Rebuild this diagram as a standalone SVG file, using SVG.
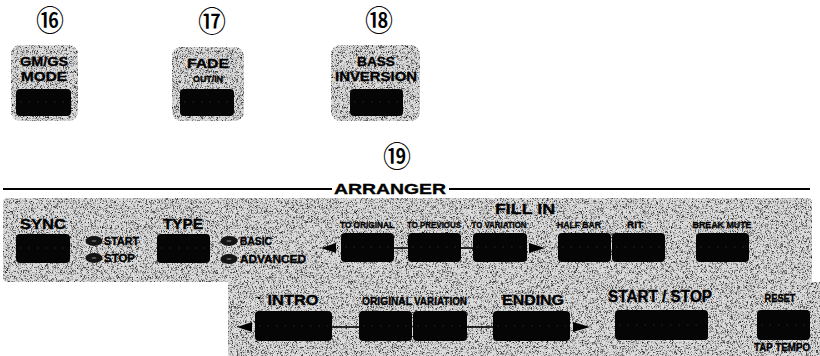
<svg xmlns="http://www.w3.org/2000/svg" width="820" height="356" viewBox="0 0 820 356">
<defs>
  <filter id="grain" x="0" y="0" width="1" height="1" color-interpolation-filters="sRGB">
    <feTurbulence type="fractalNoise" baseFrequency="1.8" numOctaves="1" seed="11" result="noise"/>
    <feColorMatrix in="noise" type="matrix" values="0 0 0 0 0  0 0 0 0 0  0 0 0 0 0  3.0 0 0 0 -1.45" result="dots"/>
    <feComposite in="dots" in2="SourceAlpha" operator="in" result="clipped"/>
    <feMerge><feMergeNode in="SourceGraphic"/><feMergeNode in="clipped"/></feMerge>
  </filter>
  <style>
    .panel{fill:#dcdcdc;filter:url(#grain)}
    .btn{fill:#050505}
    .hl{stroke:#3a3a3a;stroke-width:0.7;stroke-dasharray:1.5 7;fill:none}
    .led{fill:#141414}
    .ledmark{fill:#5a5a5a}
    .t{font-family:"Liberation Sans",Arial,sans-serif;font-weight:bold;fill:#000;stroke:#000;stroke-width:0.35}
    .c{text-anchor:middle}
    .num{font-family:"Noto Sans CJK JP","DejaVu Sans",sans-serif;font-size:28px;font-weight:500;text-anchor:middle;fill:#000}
    .wire{stroke:#000;stroke-width:1.6;fill:none}
    .rule{stroke:#000;stroke-width:2.2;fill:none}
  </style>
</defs>
<rect width="820" height="356" fill="#fff"/>

<!-- top buttons -->
<g id="gmgs-mode">
  <text class="num" x="50" y="31">⑯</text>
  <rect class="panel" x="11" y="45" width="67" height="76" rx="9"/>
  <text class="t c" x="44" y="66" font-size="13" textLength="48" lengthAdjust="spacingAndGlyphs">GM/GS</text>
  <text class="t c" x="44" y="81" font-size="13" textLength="46" lengthAdjust="spacingAndGlyphs">MODE</text>
  <rect class="btn" x="16" y="89" width="55" height="27" rx="4"/>
  <line class="hl" x1="20" y1="102" x2="67" y2="102"/>
</g>
<g id="fade-out-in">
  <text class="num" x="212" y="32">⑰</text>
  <rect class="panel" x="172" y="47" width="72" height="74" rx="9"/>
  <text class="t c" x="208" y="68" font-size="13" textLength="42" lengthAdjust="spacingAndGlyphs">FADE</text>
  <text class="t c" x="208" y="82" font-size="9" textLength="30" lengthAdjust="spacingAndGlyphs">OUT/IN</text>
  <rect class="btn" x="180" y="89" width="54" height="27" rx="4"/>
  <line class="hl" x1="184" y1="102" x2="230" y2="102"/>
</g>
<g id="bass-inversion">
  <text class="num" x="379" y="31">⑱</text>
  <rect class="panel" x="331" y="45" width="89" height="76" rx="9"/>
  <text class="t c" x="376" y="66" font-size="13" textLength="38" lengthAdjust="spacingAndGlyphs">BASS</text>
  <text class="t c" x="376" y="81" font-size="13" textLength="82" lengthAdjust="spacingAndGlyphs">INVERSION</text>
  <rect class="btn" x="350" y="89" width="53" height="27" rx="4"/>
  <line class="hl" x1="354" y1="102" x2="399" y2="102"/>
</g>

<!-- arranger section -->
<g id="arranger-title">
  <text class="num" x="397" y="167">⑲</text>
  <line class="rule" x1="3" y1="189" x2="332" y2="189"/>
  <line class="rule" x1="449" y1="189" x2="810" y2="189"/>
  <text class="t c" x="390" y="194" font-size="15.5" textLength="112" lengthAdjust="spacingAndGlyphs">ARRANGER</text>
</g>
<path id="arranger-panel" class="panel" d="M8,198 H807 Q812,198 812,203 V282 H820 V356 H228 V282 H8 Q3,282 3,277 V203 Q3,198 8,198 Z"/>

<g id="sync">
  <text class="t c" x="43" y="229" font-size="15" textLength="46" lengthAdjust="spacingAndGlyphs">SYNC</text>
  <rect class="btn" x="16" y="234" width="54" height="29" rx="4"/>
  <line class="hl" x1="20" y1="248" x2="66" y2="248"/>
</g>
<g id="sync-start-led">
  <ellipse class="led" cx="94" cy="241" rx="8.5" ry="5"/>
  <ellipse class="ledmark" cx="94" cy="241" rx="2.5" ry="1"/>
  <text class="t" x="104" y="245" font-size="11" textLength="35" lengthAdjust="spacingAndGlyphs">START</text>
</g>
<g id="sync-stop-led">
  <ellipse class="led" cx="94" cy="258" rx="8.5" ry="5"/>
  <ellipse class="ledmark" cx="94" cy="258" rx="2.5" ry="1"/>
  <text class="t" x="104" y="262" font-size="11" textLength="31" lengthAdjust="spacingAndGlyphs">STOP</text>
</g>
<g id="type">
  <text class="t c" x="183" y="229" font-size="15" textLength="40" lengthAdjust="spacingAndGlyphs">TYPE</text>
  <rect class="btn" x="157" y="234" width="53" height="29" rx="4"/>
  <line class="hl" x1="161" y1="248" x2="206" y2="248"/>
</g>
<g id="type-basic-led">
  <ellipse class="led" cx="229" cy="241" rx="8.5" ry="5"/>
  <ellipse class="ledmark" cx="229" cy="241" rx="2.5" ry="1"/>
  <text class="t" x="240" y="245" font-size="11" textLength="32" lengthAdjust="spacingAndGlyphs">BASIC</text>
</g>
<g id="type-advanced-led">
  <ellipse class="led" cx="229" cy="259" rx="8.5" ry="5"/>
  <ellipse class="ledmark" cx="229" cy="259" rx="2.5" ry="1"/>
  <text class="t" x="240" y="263" font-size="11" textLength="66" lengthAdjust="spacingAndGlyphs">ADVANCED</text>
</g>
<g id="fill-in-label">
  <text class="t c" x="525" y="214" font-size="15" textLength="60" lengthAdjust="spacingAndGlyphs">FILL IN</text>
</g>
<g id="to-original">
  <text class="t c" x="367" y="228" font-size="9.5" textLength="54" lengthAdjust="spacingAndGlyphs">TO ORIGINAL</text>
  <rect class="btn" x="341" y="233" width="53" height="29" rx="4"/>
  <line class="hl" x1="345" y1="247" x2="390" y2="247"/>
</g>
<g id="to-previous">
  <text class="t c" x="434" y="228" font-size="9.5" textLength="54" lengthAdjust="spacingAndGlyphs">TO PREVIOUS</text>
  <rect class="btn" x="408" y="233" width="53" height="29" rx="4"/>
  <line class="hl" x1="412" y1="247" x2="457" y2="247"/>
</g>
<g id="to-variation">
  <text class="t c" x="499" y="228" font-size="9.5" textLength="55" lengthAdjust="spacingAndGlyphs">TO VARIATION</text>
  <rect class="btn" x="473" y="233" width="54" height="29" rx="4"/>
  <line class="hl" x1="477" y1="247" x2="523" y2="247"/>
</g>
<g id="half-bar">
  <text class="t c" x="579" y="228" font-size="9.5" textLength="44" lengthAdjust="spacingAndGlyphs">HALF BAR</text>
  <rect class="btn" x="558" y="233" width="53" height="29" rx="4"/>
  <line class="hl" x1="562" y1="247" x2="607" y2="247"/>
</g>
<g id="rit">
  <text class="t c" x="635" y="228" font-size="9.5" textLength="16" lengthAdjust="spacingAndGlyphs">RIT</text>
  <rect class="btn" x="612" y="233" width="53" height="29" rx="4"/>
  <line class="hl" x1="616" y1="247" x2="661" y2="247"/>
</g>
<g id="break-mute">
  <text class="t c" x="722" y="228" font-size="9.5" textLength="59" lengthAdjust="spacingAndGlyphs">BREAK MUTE</text>
  <rect class="btn" x="696" y="233" width="53" height="29" rx="4"/>
  <line class="hl" x1="700" y1="247" x2="745" y2="247"/>
</g>

<g id="intro">
  <circle cx="259" cy="298" r="1.3" fill="#000"/>
  <text class="t c" x="293" y="305" font-size="15.5" textLength="51" lengthAdjust="spacingAndGlyphs">INTRO</text>
  <rect class="btn" x="255" y="311" width="77" height="30" rx="4"/>
  <line class="hl" x1="259" y1="326" x2="328" y2="326"/>
</g>
<g id="original">
  <text class="t" x="362" y="305" font-size="10.5" textLength="50" lengthAdjust="spacingAndGlyphs">ORIGINAL</text>
  <rect class="btn" x="359" y="311" width="53" height="30" rx="4"/>
  <line class="hl" x1="363" y1="326" x2="408" y2="326"/>
</g>
<g id="variation">
  <text class="t" x="414" y="305" font-size="10.5" textLength="53" lengthAdjust="spacingAndGlyphs">VARIATION</text>
  <rect class="btn" x="413" y="311" width="54" height="30" rx="4"/>
  <line class="hl" x1="417" y1="326" x2="463" y2="326"/>
</g>
<g id="ending">
  <text class="t c" x="533" y="305" font-size="15.5" textLength="62" lengthAdjust="spacingAndGlyphs">ENDING</text>
  <rect class="btn" x="493" y="311" width="77" height="30" rx="4"/>
  <line class="hl" x1="497" y1="326" x2="566" y2="326"/>
</g>
<g id="start-stop">
  <text class="t c" x="660" y="302" font-size="16" textLength="104" lengthAdjust="spacingAndGlyphs">START / STOP</text>
  <rect class="btn" x="615" y="310" width="93" height="30" rx="4"/>
  <line class="hl" x1="619" y1="325" x2="704" y2="325"/>
</g>
<g id="reset-tap-tempo">
  <text class="t c" x="780" y="302" font-size="11" textLength="31" lengthAdjust="spacingAndGlyphs">RESET</text>
  <rect class="btn" x="757" y="310" width="53" height="30" rx="4"/>
  <line class="hl" x1="761" y1="325" x2="806" y2="325"/>
  <text class="t c" x="782" y="351" font-size="11" textLength="56" lengthAdjust="spacingAndGlyphs">TAP TEMPO</text>
</g>

<g id="connectors">
  <polygon points="321,248 336,243 336,253" fill="#000"/>
  <line class="wire" x1="394" y1="248" x2="408" y2="248"/>
  <line class="wire" x1="461" y1="248" x2="473" y2="248"/>
  <polygon points="529,243 529,253 545,248" fill="#000"/>
  <polygon points="237,327 252,322 252,332" fill="#000"/>
  <line class="wire" x1="332" y1="327" x2="359" y2="327"/>
  <line class="wire" x1="467" y1="327" x2="493" y2="327"/>
  <polygon points="573,322 573,332 590,327" fill="#000"/>
</g>
</svg>
